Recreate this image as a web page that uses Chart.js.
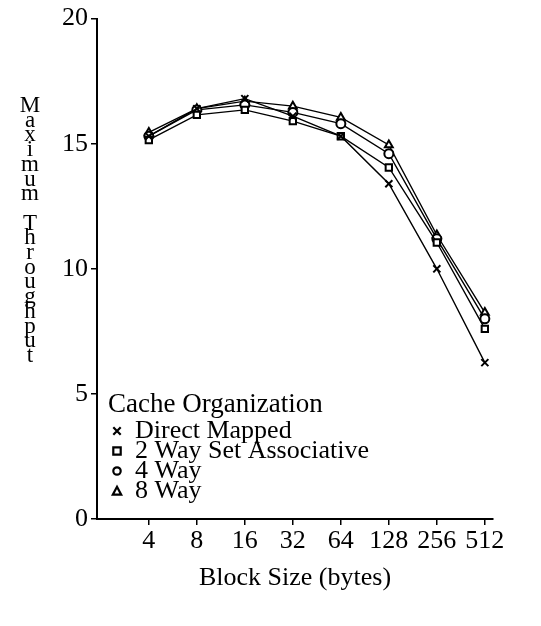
<!DOCTYPE html>
<html>
<head>
<meta charset="utf-8">
<title>Maximum Throughput vs Block Size</title>
<script src="https://cdn.jsdelivr.net/npm/chart.js@4.4.1/dist/chart.umd.min.js"></script>
<style>
    body { margin: 0; background: #fff; }
    #wrap { width: 541px; height: 626px; }
</style>
</head>
<body>
<div id="wrap"><canvas id="throughputChart" width="541" height="626"></canvas></div>
<script>
// block sizes on the x axis (bytes)
const blockSizes = ['4', '8', '16', '32', '64', '128', '256', '512'];

// maximum throughput per cache organization
const directMapped = [15.3, 16.4, 16.8, 16.1, 15.3, 13.4, 10.0, 6.25];
const twoWay = [15.15, 16.15, 16.35, 15.9, 15.3, 14.05, 11.05, 7.6];
const fourWay = [15.3, 16.35, 16.55, 16.25, 15.8, 14.6, 11.2, 8.0];
const eightWay = [15.45, 16.4, 16.7, 16.5, 16.05, 14.95, 11.35, 8.25];

const seriesLabels = ['Direct Mapped', '2 Way Set Associative', '4 Way', '8 Way'];
const pointStyles = ['crossRot', 'rect', 'circle', 'triangle'];
const yTicks = [0, 5, 10, 15, 20];

const legendTitle = 'Cache Organization';
const yTitle = 'Maximum Throughput';
const xTitle = 'Block Size (bytes)';

const FONT = '"Liberation Serif", "Times New Roman", serif';

// y axis title: one letter per line, stacked
const stackedTitle = {
    id: 'stackedTitle',
    afterDraw(chart) {
        const ctx = chart.ctx;
        ctx.save();
        ctx.fillStyle = '#000';
        ctx.font = '23px ' + FONT;
        ctx.textAlign = 'center';
        ctx.textBaseline = 'middle';
        [...yTitle].forEach((ch, i) => {
            ctx.fillText(ch, 30, 106 + i * 14.7);
        });
        ctx.restore();
    }
};

// small hollow marker for the legend rows
function legendMarker(ctx, style, x, y) {
    const r = 3.7;
    ctx.beginPath();
    if (style === 'crossRot') {
        ctx.moveTo(x - r, y - r); ctx.lineTo(x + r, y + r);
        ctx.moveTo(x + r, y - r); ctx.lineTo(x - r, y + r);
    } else if (style === 'rect') {
        ctx.rect(x - r, y - r, 2 * r, 2 * r);
    } else if (style === 'circle') {
        ctx.arc(x, y, r, 0, Math.PI * 2);
    } else {
        ctx.moveTo(x, y - r - 0.5);
        ctx.lineTo(x + r + 0.5, y + r);
        ctx.lineTo(x - r - 0.5, y + r);
        ctx.closePath();
    }
    ctx.stroke();
}

// legend box inside the plot, lower left
const cacheLegend = {
    id: 'cacheLegend',
    afterDraw(chart) {
        const ctx = chart.ctx;
        ctx.save();
        ctx.fillStyle = '#000';
        ctx.textAlign = 'left';
        ctx.textBaseline = 'alphabetic';
        ctx.font = '27px ' + FONT;
        ctx.fillText(legendTitle, 108, 412);
        ctx.font = '26px ' + FONT;
        seriesLabels.forEach((label, i) => {
            const y = 438 + i * 20;
            ctx.fillText(label, 135, y);
            ctx.strokeStyle = '#000';
            ctx.lineWidth = 2.2;
            legendMarker(ctx, pointStyles[i], 117, y - 7);
        });
        ctx.restore();
    }
};

function makeSet(label, data, style) {
    return {
        label: label,
        data: data.map((v, i) => ({ x: i + 1, y: v })),
        borderColor: '#000',
        borderWidth: 1.4,
        backgroundColor: '#fff',
        pointStyle: style,
        pointRadius: style === 'crossRot' ? 5 : 4.5,
        pointBorderColor: '#000',
        pointBackgroundColor: '#fff',
        pointBorderWidth: 2,
        tension: 0,
        fill: false
    };
}

const ctx = document.getElementById('throughputChart').getContext('2d');
new Chart(ctx, {
    type: 'line',
    data: {
        datasets: [
            makeSet(seriesLabels[0], directMapped, pointStyles[0]),
            makeSet(seriesLabels[1], twoWay, pointStyles[1]),
            makeSet(seriesLabels[2], fourWay, pointStyles[2]),
            makeSet(seriesLabels[3], eightWay, pointStyles[3])
        ]
    },
    options: {
        responsive: false,
        devicePixelRatio: 1,
        animation: false,
        layout: { padding: { top: 16, right: 48, bottom: 0, left: 0 } },
        plugins: {
            legend: { display: false },
            tooltip: { enabled: false }
        },
        scales: {
            x: {
                type: 'linear',
                min: -0.08,
                max: 8.17,
                afterBuildTicks: scale => {
                    scale.ticks = blockSizes.map((_, i) => ({ value: i + 1 }));
                },
                afterFit: scale => { scale.height = 107; },
                ticks: {
                    autoSkip: false,
                    maxRotation: 0,
                    color: '#000',
                    padding: 1,
                    font: { family: FONT, size: 26 },
                    callback: v => blockSizes[v - 1]
                },
                grid: { drawOnChartArea: false, color: '#000', tickLength: 6, lineWidth: 1.5 },
                border: { color: '#000', width: 2 },
                title: {
                    display: true,
                    text: xTitle,
                    color: '#000',
                    font: { family: FONT, size: 26 },
                    padding: { top: 0, bottom: 32 }
                }
            },
            y: {
                min: 0,
                max: 20,
                afterBuildTicks: scale => {
                    scale.ticks = yTicks.map(v => ({ value: v }));
                },
                afterFit: scale => { scale.width = 97; },
                ticks: {
                    color: '#000',
                    padding: 3,
                    font: { family: FONT, size: 26 }
                },
                grid: { drawOnChartArea: false, color: '#000', tickLength: 6, lineWidth: 1.5 },
                border: { color: '#000', width: 2 }
            }
        }
    },
    plugins: [stackedTitle, cacheLegend]
});
</script>
</body>
</html>
